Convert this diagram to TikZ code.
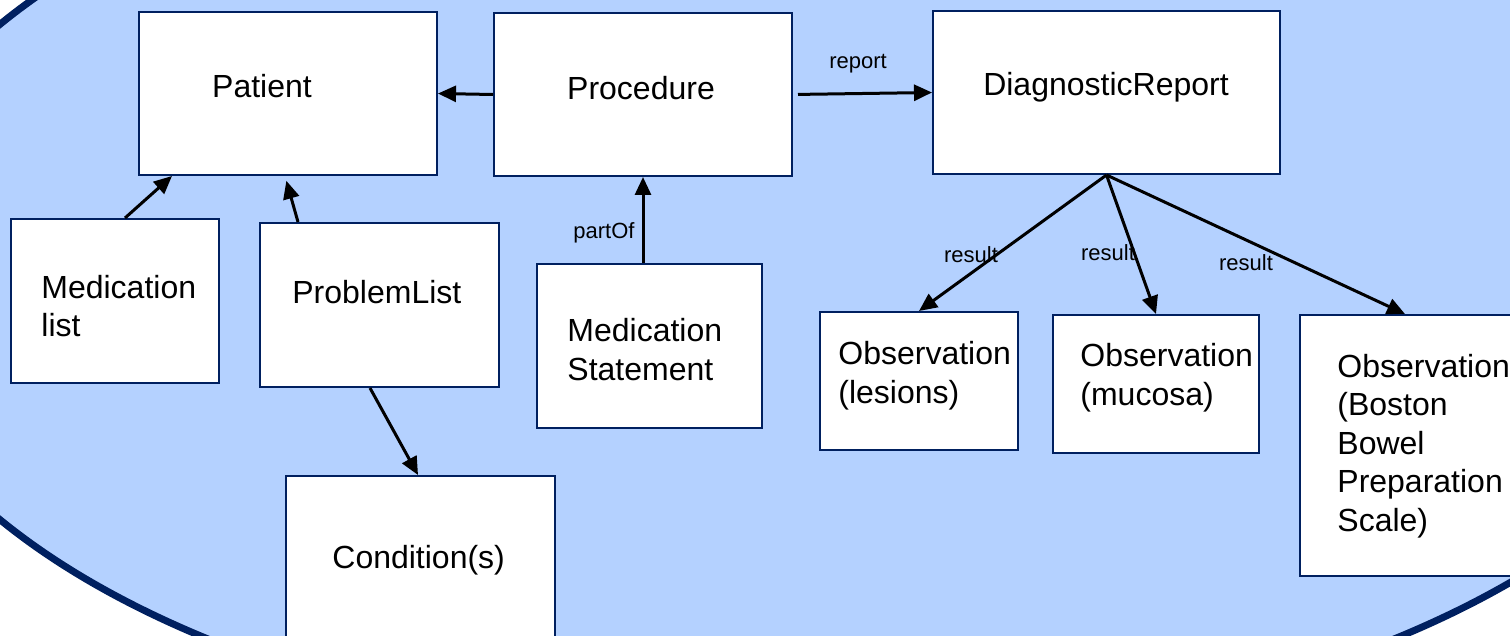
\documentclass[tikz,border=0pt]{standalone}
\usepackage{fontspec}
\setmainfont{Liberation Sans}
\usetikzlibrary{arrows.meta}

\begin{document}
\begin{tikzpicture}[x=0.5pt,y=-0.5pt,
    box/.style={draw=navy,line width=1pt,fill=white,inner sep=0pt},
    txt/.style={inner sep=0pt,align=left,font=\fontsize{16pt}{19.25pt}\selectfont},
    lbl/.style={inner sep=0pt,font=\fontsize{11pt}{13pt}\selectfont},
    link/.style={line width=1.5pt,-{Triangle[length=9pt,width=8pt]}}]
    % colours and frame %
    \definecolor{navy}{RGB}{0,32,96}
    \definecolor{lb}{RGB}{180,209,255}
    \useasboundingbox (0,0) rectangle (1510,636);
    \clip (0,0) rectangle (1510,636);
    \fill[white] (0,0) rectangle (1510,636);
    \filldraw[fill=lb,draw=navy,line width=3.5pt] (801,272) ellipse [x radius=470pt, y radius=236.5pt];

    % boxes %
    \node[box,minimum width=149pt,minimum height=81.5pt] (patient) at (288,93.5) {};
    \node[box,minimum width=149pt,minimum height=81.5pt] (proc) at (643,94.5) {};
    \node[box,minimum width=173.5pt,minimum height=81.5pt] (dr) at (1106.5,92.5) {};
    \node[box,minimum width=104pt,minimum height=82pt] (medlist) at (115,301) {};
    \node[box,minimum width=119.5pt,minimum height=82pt] (problist) at (379.5,305) {};
    \node[box,minimum width=112.5pt,minimum height=82pt] (medstmt) at (649.5,346) {};
    \node[box,minimum width=134.5pt,minimum height=102pt] (cond) at (420.5,578) {};
    \node[box,minimum width=99pt,minimum height=69pt] (obsles) at (919,381) {};
    \node[box,minimum width=103pt,minimum height=69pt] (obsmuc) at (1156,384) {};
    \node[box,minimum width=120pt,minimum height=130.5pt] (obsbbps) at (1420,445.5) {};

    % texts %
    \node[txt] (patientT) at (262,86) {Patient};
    \node[txt] (procT) at (641,88) {Procedure};
    \node[txt] (drT) at (1106,87) {DiagnosticReport};
    \node[txt,anchor=west] (medlistT) at (41,306) {Medication\\list};
    \node[txt,anchor=west] (problistT) at (292,292) {ProblemList};
    \node[txt,anchor=west] (medstmtT) at (567,349.5) {Medication\\Statement};
    \node[txt,anchor=west] (condT) at (332,560) {Condition(s)};
    \node[txt,anchor=west] (obslesT) at (838,375.5) {Observation\\(lesions)};
    \node[txt,anchor=west] (obsmucT) at (1080,377.5) {Observation\\(mucosa)};
    \node[txt,anchor=west] (obsbbpsT) at (1337,446) {Observation\\(Boston\\Bowel\\Preparation\\Scale)};

    % links %
    \draw[link] (proc.west) -- (patient.east);
    \draw[link,shorten <=2.5pt] (proc.east) -- (dr.west);
    \draw[link] ([xshift=5pt]medlist.north) -- ([xshift=-58pt]patient.south);
    \draw[link,shorten >=2.5pt] ([xshift=-40.75pt]problist.north) -- ([xshift=-1.5pt]patient.south);
    \draw[link] ([xshift=-4.75pt]problist.south) -- ([xshift=-1.25pt]cond.north);
    \draw[link] ([xshift=-3.25pt]medstmt.north) -- (proc.south);
    \draw[link] (dr.south) -- (obsles.north);
    \draw[link] (dr.south) -- (obsmuc.north);
    \draw[link] (dr.south) -- ([xshift=-7.5pt]obsbbps.north);
    \node[lbl] (reportL) at (858,64) {report};
    \node[lbl] (partofL) at (604,233) {partOf};
    \node[lbl] (res1L) at (971,255) {result};
    \node[lbl] (res2L) at (1108,253) {result};
    \node[lbl] (res3L) at (1246,263) {result};
\end{tikzpicture}
\end{document}
